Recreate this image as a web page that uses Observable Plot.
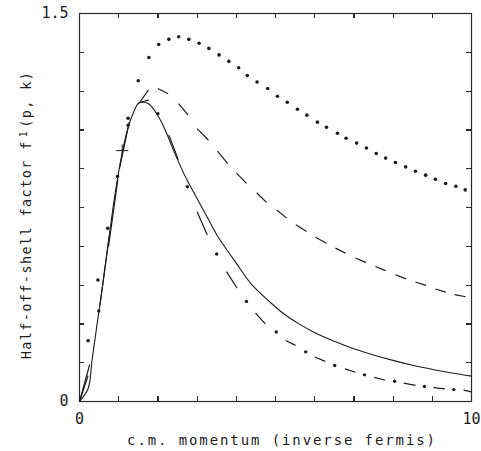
<!DOCTYPE html>
<html><head><meta charset="utf-8">
<script src="https://cdn.jsdelivr.net/npm/d3@7"></script>
<script src="https://cdn.jsdelivr.net/npm/@observablehq/plot@0.6"></script>
<style>body{margin:0;background:#fff} svg{display:block}</style>
</head><body><div id="chart"></div>
<script>
// ---- tick positions / labels ----
const xTicks = [0,1,2,3,4,5,6,7,8,9,10];
const yTicks = [0,0.15,0.3,0.45,0.6,0.75,0.9,1.05,1.2,1.35,1.5];
const xTickLabels = [0,10];
const yTickLabels = [0,1.5];
const xLabel = "c.m. momentum (inverse fermis)";
const yLabelMain = "Half-off-shell factor f";
const yLabelSub = "1";
const yLabelTail = "(p, k)";

// ---- solid curve ----
const solidX = [0,0.22,0.32,0.45,0.6,0.75,0.92,1.1,1.26,1.4,1.5,1.75,2.02,2.2,2.4,2.75,3.0,3.26,3.5,3.77,4.0,4.36,4.82,5.21,5.6,5.98,6.5,7.0,7.5,8.02,8.5,9.04,9.5,10];
const solidY = [0,0.05,0.16,0.30,0.46,0.63,0.815,0.97,1.07,1.125,1.152,1.152,1.10,1.045,0.97,0.854,0.785,0.712,0.645,0.584,0.535,0.458,0.39,0.339,0.30,0.268,0.233,0.204,0.18,0.158,0.14,0.123,0.11,0.098];

// ---- dashed curve (dash start/end points) ----
const dashedX0 = [0,0.52,1.02,1.53,2.0,2.53,3.0,3.52,4.0,4.52,5.03,5.52,6.02,6.53,7.04,7.55,8.06,8.57,9.08,9.57];
const dashedY0 = [0,0.37,0.90,1.155,1.21,1.152,1.055,0.968,0.884,0.807,0.74,0.683,0.635,0.593,0.555,0.522,0.49,0.462,0.435,0.413];
const dashedX1 = [0.26,0.76,1.27,1.76,2.26,2.77,3.29,3.78,4.26,4.77,5.28,5.79,6.3,6.79,7.31,7.81,8.33,8.84,9.34,9.85];
const dashedY1 = [0.143,0.64,1.08,1.205,1.19,1.107,1.01,0.92,0.843,0.77,0.71,0.657,0.612,0.573,0.537,0.506,0.474,0.449,0.423,0.405];

// ---- dash-dot curve: dashes and dots ----
const ddDashX0 = [0,0.74,1.5,2.28,3.0,3.75,4.49,5.26,6.0,6.77,7.52,8.27,9.03,9.8];
const ddDashY0 = [0,0.6,1.155,1.03,0.734,0.502,0.342,0.236,0.172,0.126,0.093,0.071,0.054,0.044];
const ddDashX1 = [0.22,0.98,1.77,2.52,3.26,4.02,4.74,5.51,6.27,7.04,7.8,8.57,9.32,10.0];
const ddDashY1 = [0.10,0.86,1.165,0.935,0.644,0.438,0.30,0.217,0.155,0.113,0.082,0.062,0.049,0.037];
const ddDotX = [0.49,1.24,2.0,2.75,3.5,4.26,5.02,5.77,6.51,7.27,8.04,8.8,9.55];
const ddDotY = [0.35,1.068,1.113,0.83,0.57,0.387,0.269,0.192,0.139,0.103,0.078,0.058,0.046];

// ---- dotted curve ----
const dottedX = [0.22,0.47,0.72,0.97,1.24,1.5,1.77,2.02,2.28,2.53,2.79,3.05,3.3,3.56,3.81,4.06,4.28,4.53,4.8,5.05,5.3,5.56,5.8,6.07,6.3,6.58,6.8,7.07,7.32,7.57,7.81,8.06,8.32,8.57,8.83,9.08,9.34,9.6,9.84];
const dottedY = [0.235,0.47,0.67,0.87,1.095,1.24,1.33,1.38,1.40,1.41,1.40,1.385,1.365,1.34,1.315,1.29,1.26,1.235,1.21,1.18,1.157,1.13,1.107,1.08,1.06,1.037,1.018,0.999,0.98,0.959,0.941,0.924,0.907,0.89,0.875,0.859,0.843,0.832,0.818];

// ---- plus marker ----
const plusX = [1.09];
const plusY = [0.97];

const solid = solidX.map((x,i)=>({x, y: solidY[i]}));
const dashed = dashedX0.map((x,i)=>({x1:x, y1:dashedY0[i], x2:dashedX1[i], y2:dashedY1[i]}));
const ddDash = ddDashX0.map((x,i)=>({x1:x, y1:ddDashY0[i], x2:ddDashX1[i], y2:ddDashY1[i]}));
const ddDots = ddDotX.map((x,i)=>({x, y: ddDotY[i]}));
const dotted = dottedX.map((x,i)=>({x, y: dottedY[i]}));
const plus = plusX.map((x,i)=>({x, y: plusY[i]}));

const ink = "#1c1c1c";
const frameInk = "#2a2a2a";
const font = "DejaVu Sans Mono";
const TL = 5; // inward tick length (px)
const [xMin, xMax] = [xTicks[0], xTicks[xTicks.length-1]];
const [yMin, yMax] = [yTicks[0], yTicks[yTicks.length-1]];
const tickStyle = {stroke: frameInk, strokeWidth: 1.2, shapeRendering: "crispEdges"};

const chart = Plot.plot({
  width: 481,
  height: 451,
  marginLeft: 79,
  marginRight: 10,
  marginTop: 13,
  marginBottom: 50,
  style: {background: "#fff", fontFamily: font},
  x: {domain: [xMin, xMax]},
  y: {domain: [yMin, yMax]},
  marks: [
    Plot.frame({stroke: frameInk, strokeWidth: 1.2}),
    // inward ticks on all four sides (zero-length rules extended by negative insets)
    Plot.ruleX(xTicks, {x: d => d, y1: () => yMin, y2: () => yMin, insetTop: -TL, ...tickStyle}),
    Plot.ruleX(xTicks, {x: d => d, y1: () => yMax, y2: () => yMax, insetBottom: -TL, ...tickStyle}),
    Plot.ruleY(yTicks, {y: d => d, x1: () => xMin, x2: () => xMin, insetRight: -TL, ...tickStyle}),
    Plot.ruleY(yTicks, {y: d => d, x1: () => xMax, x2: () => xMax, insetLeft: -TL, ...tickStyle}),
    Plot.axisX({anchor: "bottom", ticks: xTickLabels, tickSize: 0, tickPadding: 12, tickFormat: d => String(d), label: null, fontSize: 15, fill: ink, fontFamily: font}),
    Plot.axisY({anchor: "left", ticks: yTickLabels, tickSize: 0, tickPadding: 11, tickFormat: d => String(d), label: null, fontSize: 15, fill: ink, fontFamily: font}),
    Plot.line(solid, {x: "x", y: "y", stroke: ink, strokeWidth: 1.1, curve: "catmull-rom"}),
    Plot.link(dashed, {x1: "x1", y1: "y1", x2: "x2", y2: "y2", stroke: ink, strokeWidth: 1.2}),
    Plot.link(ddDash, {x1: "x1", y1: "y1", x2: "x2", y2: "y2", stroke: ink, strokeWidth: 1.2}),
    Plot.dot(ddDots, {x: "x", y: "y", r: 1.7, fill: ink, stroke: "none"}),
    Plot.dot(dotted, {x: "x", y: "y", r: 1.8, fill: ink, stroke: "none"}),
    Plot.dot(plus, {x: "x", y: "y", symbol: "plus", r: 4, stroke: ink, strokeWidth: 1})
  ]
});

const svg = d3.select(chart);
svg.append("text")
  .attr("x", 282).attr("y", 445)
  .attr("text-anchor", "middle")
  .attr("font-family", font).attr("font-size", 14)
  .attr("letter-spacing", "1.9px")
  .attr("fill", ink)
  .text(xLabel);

const yl = svg.append("text")
  .attr("transform", "translate(31,215) rotate(-90)")
  .attr("text-anchor", "middle")
  .attr("font-family", font).attr("font-size", 13.5)
  .attr("letter-spacing", "1.4px")
  .attr("fill", ink);
yl.append("tspan").text(yLabelMain);
yl.append("tspan").attr("font-size", 10).attr("dy", -4).attr("dx", 3).text(yLabelSub);
yl.append("tspan").attr("dy", 4).attr("dx", 2).text(yLabelTail);

document.getElementById("chart").appendChild(chart);
</script>
</body></html>
